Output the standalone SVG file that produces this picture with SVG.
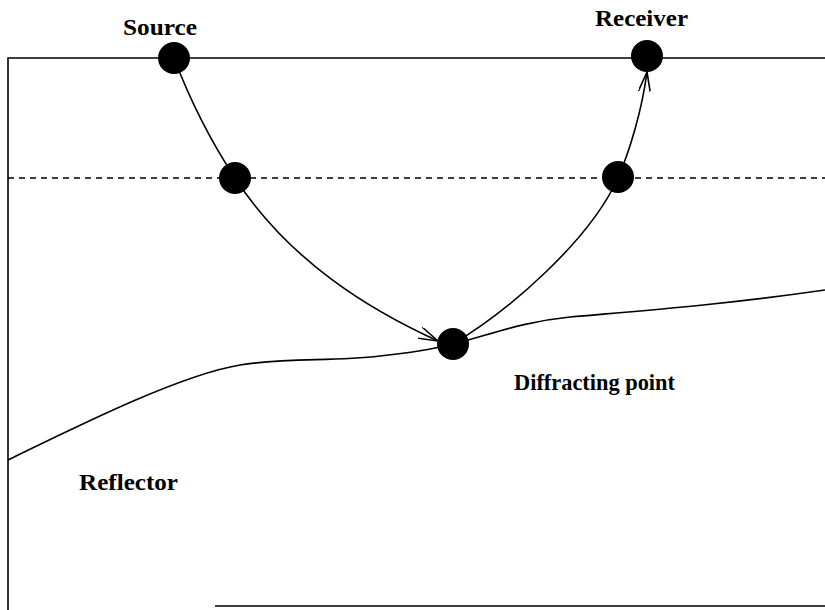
<svg xmlns="http://www.w3.org/2000/svg" width="825" height="610" viewBox="0 0 825 610">
<style>
.ln{fill:none;stroke:#000;stroke-width:1.6}
.dash{fill:none;stroke:#000;stroke-width:1.4;stroke-dasharray:6 5}
.dot{fill:#000}
.lbl{font-family:"Liberation Serif","Times New Roman",serif;font-weight:bold;font-size:23px;fill:#000}
</style>
<defs>
<marker id="arr" viewBox="0 0 20 12" refX="20" refY="6" markerWidth="20" markerHeight="12" markerUnits="userSpaceOnUse" orient="auto">
<path d="M0,0 L20,6 L0,12" fill="none" stroke="#000" stroke-width="1.6"/>
</marker>
</defs>
<rect width="825" height="610" fill="#fff"/>
<g id="frame">
<path class="ln" d="M8,610 L8,58 L825,58"/>
<path class="ln" d="M215,606 L825,606"/>
<path class="dash" d="M8,178 L825,178"/>
</g>
<g id="reflector">
<path class="ln" d="M8,460 C 80,425 180,375 240,365 C 290,357 330,362 380,356 C 410,353 430,350 453,344 C 490,335 520,322 570,317 C 650,310 720,305 825,290"/>
<text class="lbl" x="79" y="490" textLength="99" lengthAdjust="spacingAndGlyphs">Reflector</text>
</g>
<g id="connectors">
<path class="ln" d="M174,58 C 190,100 210,140 235,178 C 290,262 370,310 438,341" marker-end="url(#arr)"/>
<path class="ln" d="M453,344 C 510,310 590,240 618,178 C 630,150 642,110 647,72" marker-end="url(#arr)"/>
</g>
<g id="source">
<circle class="dot" cx="174" cy="58" r="16"/>
<text class="lbl" x="123" y="35" textLength="74" lengthAdjust="spacingAndGlyphs">Source</text>
</g>
<g id="receiver">
<circle class="dot" cx="647" cy="56" r="16"/>
<text class="lbl" x="595" y="26" textLength="93" lengthAdjust="spacingAndGlyphs">Receiver</text>
</g>
<g id="cross-left">
<circle class="dot" cx="235" cy="178" r="16"/>
</g>
<g id="cross-right">
<circle class="dot" cx="618" cy="177" r="16"/>
</g>
<g id="diffractor">
<circle class="dot" cx="453" cy="344" r="16"/>
<text class="lbl" x="514" y="390" textLength="161" lengthAdjust="spacingAndGlyphs">Diffracting point</text>
</g>
</svg>
